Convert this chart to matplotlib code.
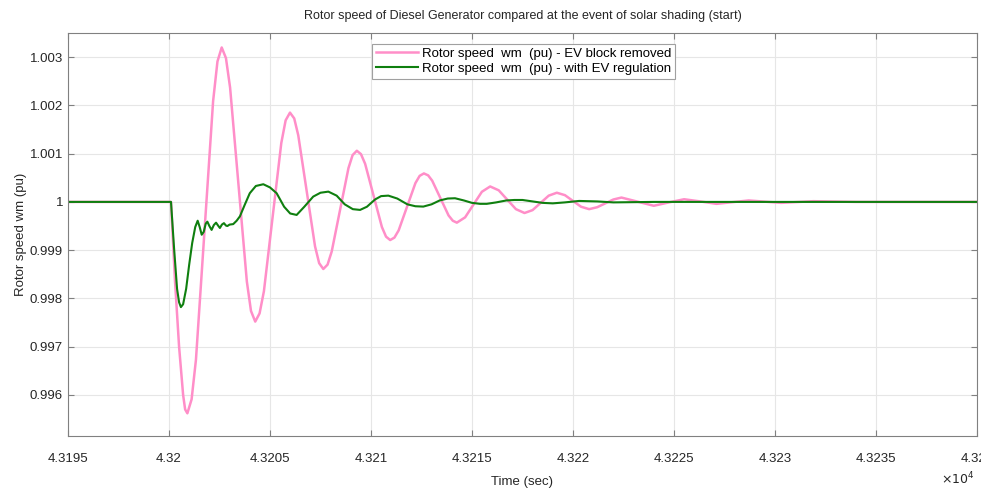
import matplotlib
matplotlib.use('Agg')
import matplotlib.pyplot as plt
from matplotlib.ticker import FuncFormatter

# pink: EV block removed
t_removed = [43195.0, 43200.1, 43200.3, 43200.5, 43200.7, 43200.8, 43200.91,
             43201.12, 43201.335, 43201.76, 43202.185, 43202.40, 43202.61,
             43202.82, 43203.025, 43203.44, 43203.855, 43204.06, 43204.27,
             43204.485, 43204.70, 43205.13, 43205.56, 43205.775, 43205.99,
             43206.20, 43206.40, 43206.815, 43207.23, 43207.435, 43207.64,
             43207.85, 43208.055, 43208.47, 43208.885, 43209.09, 43209.30,
             43209.505, 43209.71, 43210.125, 43210.54, 43210.745, 43210.95,
             43211.16, 43211.37, 43211.785, 43212.20, 43212.41, 43212.62,
             43212.83, 43213.03, 43213.435, 43213.84, 43214.05, 43214.25,
             43214.66, 43215.075, 43215.49, 43215.90,
             43216.325, 43216.75, 43217.175, 43217.6,
             43218.0, 43218.4, 43218.8, 43219.2,
             43219.6, 43220.0, 43220.4, 43220.8,
             43221.2, 43221.6, 43222.0, 43222.4,
             43223.2, 43224.0, 43224.75, 43225.5, 43226.3, 43227.1,
             43227.9, 43228.7, 43230.3, 43231.9, 43234.0, 43240.0]
w_removed = [1.0, 1.0, 0.99835, 0.99700, 0.99600, 0.99570, 0.99562,
             0.99591, 0.99673, 0.99941, 1.00209, 1.00291, 1.00320,
             1.00298, 1.00237, 1.00036, 0.99835, 0.99774, 0.99752,
             0.99769, 0.99815, 0.999685, 1.00122, 1.00169, 1.00185,
             1.00173, 1.00138, 1.00023, 0.99908, 0.99873, 0.99861,
             0.99870, 0.99897, 0.999835, 1.00070, 1.00097, 1.00106,
             1.00099, 1.00079, 1.000135, 0.99948, 0.99928, 0.99921,
             0.99926, 0.99941, 0.99990, 1.00039, 1.00054, 1.00059,
             1.00055, 1.00044, 1.00008, 0.99972, 0.99961, 0.99957,
             0.99968, 0.999945, 1.00021, 1.00032,
             1.00024, 1.000045, 0.99985, 0.99977,
             0.99983, 0.99998, 1.00013, 1.00019,
             1.00014, 1.00002, 0.99990, 0.99985,
             0.99989, 0.99997, 1.00005, 1.00009,
             1.000005, 0.99992, 0.99999, 1.000055, 1.00001, 0.99996,
             0.999995, 1.00003, 0.99998, 1.000015, 1.0, 1.0]

# green: with EV regulation
t_reg = [43195.0, 43200.1, 43200.25, 43200.4, 43200.5, 43200.59, 43200.7,
         43200.85, 43201.0, 43201.15, 43201.3, 43201.42, 43201.52, 43201.62,
         43201.72, 43201.82, 43201.90, 43202.0, 43202.11, 43202.22, 43202.33,
         43202.43, 43202.52, 43202.62, 43202.72, 43202.82, 43202.89, 43203.0,
         43203.18, 43203.35, 43203.51, 43203.75, 43204.0, 43204.3, 43204.67,
         43205.0, 43205.33, 43205.7, 43206.0, 43206.32, 43206.7, 43207.14,
         43207.5, 43207.89, 43208.3, 43208.7, 43209.1, 43209.46, 43209.8,
         43210.2, 43210.5, 43210.86, 43211.3, 43211.8, 43212.2, 43212.59,
         43213.0, 43213.4, 43213.8, 43214.16, 43214.6, 43215.0, 43215.4,
         43215.73, 43216.2, 43216.7, 43217.1, 43217.5, 43218.0, 43218.5,
         43219.0, 43219.6, 43220.3, 43221.2, 43222.0, 43224.0, 43240.0]
w_reg = [1.0, 1.0, 0.99905, 0.99820, 0.99792, 0.99782, 0.99788,
         0.99820, 0.99870, 0.99915, 0.99948, 0.99961, 0.99948, 0.99932,
         0.99938, 0.99955, 0.99959, 0.99950, 0.99942, 0.99952, 0.99957,
         0.99951, 0.99946, 0.99953, 0.99956, 0.99951, 0.99950, 0.99953,
         0.99954, 0.99961, 0.99970, 0.99994, 1.00018, 1.00033, 1.000366,
         1.00030, 1.00018, 0.99990, 0.99976, 0.99973, 0.99990, 1.00011,
         1.00019, 1.000213, 1.00013, 0.99995, 0.99985, 0.999834, 0.99990,
         1.00005, 1.00012, 1.00013, 1.00007, 0.99995, 0.99991, 0.999903,
         0.99995, 1.00003, 1.00007, 1.000076, 1.00003, 0.99998, 0.99996,
         0.99996, 0.99999, 1.00003, 1.00004, 1.00004, 1.00001, 0.99998,
         0.99997, 0.99999, 1.00002, 1.00001, 0.99999, 1.0, 1.0]

x_ticks = [43195, 43200, 43205, 43210, 43215, 43220, 43225, 43230, 43235, 43240]
y_ticks = [0.996, 0.997, 0.998, 0.999, 1.0, 1.001, 1.002, 1.003]

plt.rcParams['font.family'] = ['Liberation Sans', 'DejaVu Sans']

fig = plt.figure(figsize=(9.81, 4.88), dpi=100)
ax = fig.add_axes([0.0693, 0.1066, 0.9266, 0.8258])

ax.plot(t_removed, w_removed, color='#ff8ec8', lw=1.8,
        label='Rotor speed  wm  (pu) - EV block removed')
ax.plot(t_reg, w_reg, color='#0f7f0f', lw=1.5,
        label='Rotor speed  wm  (pu) - with EV regulation')

ax.set_xlim(43195, 43240)
ax.set_ylim(0.99515, 1.0035)
ax.set_xticks(x_ticks)
ax.set_yticks(y_ticks)
ax.xaxis.set_major_formatter(FuncFormatter(lambda v, p: '%g' % (v / 1e4)))
ax.yaxis.set_major_formatter(FuncFormatter(lambda v, p: '%g' % round(v, 4)))
ax.tick_params(direction='in', length=4, top=True, right=True,
               colors='#808080', labelcolor='#262626', labelsize=9.5)
ax.tick_params(axis='x', pad=12)
ax.grid(True, color='#e6e6e6', lw=0.8)
ax.set_axisbelow(True)
for s in ax.spines.values():
    s.set_color('#808080')
    s.set_linewidth(0.8)

ax.set_title('Rotor speed of Diesel Generator compared at the event of solar shading (start)',
             fontsize=9, color='#262626', pad=10)
ax.set_xlabel('Time (sec)', fontsize=9.5, color='#262626', labelpad=8)
ax.set_ylabel('Rotor speed wm (pu)', fontsize=9.5, color='#262626', labelpad=2)
fig.text(0.993, 0.018, r'$\times10^4$', fontsize=9,
         color='#262626', ha='right', va='center')

leg = ax.legend(loc='upper left', bbox_to_anchor=(0.327, 0.99), fontsize=9.5,
                fancybox=False, framealpha=1, edgecolor='#a0a0a0',
                handlelength=3.2, borderpad=0.3, labelspacing=0.2,
                handletextpad=0.3)
leg.get_frame().set_linewidth(0.8)

fig.savefig('out.png', dpi=100)
